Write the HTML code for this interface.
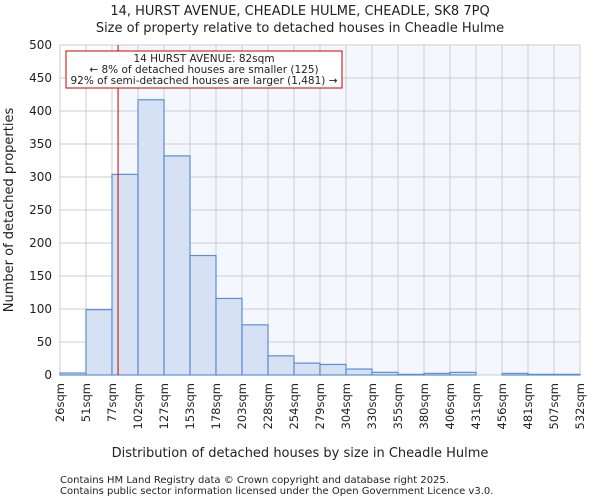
<!DOCTYPE html>
<html><head><meta charset="utf-8"><style>
body{margin:0;background:#fff;font-family:"DejaVu Sans","Liberation Sans",sans-serif;}
svg text{font-family:"DejaVu Sans","Liberation Sans",sans-serif;fill:#222;}
</style></head><body>
<svg id="c" width="600" height="500" viewBox="0 0 600 500">
<text x="300" y="15" text-anchor="middle" font-size="13">14, HURST AVENUE, CHEADLE HULME, CHEADLE, SK8 7PQ</text>
<text x="300" y="32" text-anchor="middle" font-size="13">Size of property relative to detached houses in Cheadle Hulme</text>
<g id="plot"></g>
<text x="300" y="457" text-anchor="middle" font-size="13">Distribution of detached houses by size in Cheadle Hulme</text>
<text transform="translate(13,210) rotate(-90)" text-anchor="middle" font-size="13">Number of detached properties</text>
<text x="60" y="483" font-size="10" fill="#444">Contains HM Land Registry data © Crown copyright and database right 2025.</text>
<text x="60" y="494" font-size="10" fill="#444">Contains public sector information licensed under the Open Government Licence v3.0.</text>
</svg>
<script>
const binLabels=["26sqm","51sqm","77sqm","102sqm","127sqm","153sqm","178sqm","203sqm","228sqm","254sqm","279sqm","304sqm","330sqm","355sqm","380sqm","406sqm","431sqm","456sqm","481sqm","507sqm","532sqm"];
const counts=[3,99,304,417,332,181,116,76,29,18,16,9,4,1,2.5,4,0,2.5,1,1];
const yTicks=[0,50,100,150,200,250,300,350,400,450,500];
const minSize=26, maxSize=532;
const propertySize=82;
const NS="http://www.w3.org/2000/svg";
const L=60,R=580,T=45,B=375;
const g=document.getElementById('plot');
const yS=v=>B-(v/500)*(B-T);
const xI=i=>L+i*(R-L)/counts.length;
const xV=v=>L+(v-minSize)/(maxSize-minSize)*(R-L);
function mk(t,a){const e=document.createElementNS(NS,t);for(const k in a)e.setAttribute(k,a[k]);g.appendChild(e);return e;}
const px=xV(propertySize);
let e=mk('rect',{x:L,y:T,width:R-L,height:B-T,fill:'#fff'});


e=mk('rect',{x:px,y:T,width:R-px,height:B-T,fill:'#f4f7fe'});


yTicks.forEach(v=>{
 let l=mk('line',{x1:L,x2:R,y1:yS(v),y2:yS(v),stroke:'#ccc'});
 
 
 let t=mk('text',{x:L-8,y:yS(v)+4,'text-anchor':'end','font-size':12});
 t.textContent=v;
 
 
});
binLabels.forEach((s,i)=>{
 const x=xI(i);
 let l=mk('line',{x1:x,x2:x,y1:T,y2:B,stroke:'#ccc'});
 
 
 let t=mk('text',{transform:`translate(${x+4},${B+8}) rotate(-90)`,'text-anchor':'end','font-size':11.5});
 t.textContent=s;
 
 
});
counts.forEach((c,i)=>{
 let r=mk('rect',{x:xI(i),y:yS(c),width:xI(i+1)-xI(i),height:B-yS(c),fill:'#d6e1f3',stroke:'#5b8fd4','stroke-width':1.2});
 
 
});
e=mk('line',{x1:px+0.5,x2:px+0.5,y1:T,y2:B,stroke:'#c00','stroke-width':1});


e=mk('rect',{x:66,y:51,width:276,height:37,fill:'#fff',stroke:'#c00','stroke-width':1});


[["14 HURST AVENUE: 82sqm",62],["← 8% of detached houses are smaller (125)",73],["92% of semi-detached houses are larger (1,481) →",84]].forEach(([s,y])=>{
 let t=mk('text',{x:204,y:y,'text-anchor':'middle','font-size':10.5});
 t.textContent=s;
 
 
});
</script>
</body></html>
